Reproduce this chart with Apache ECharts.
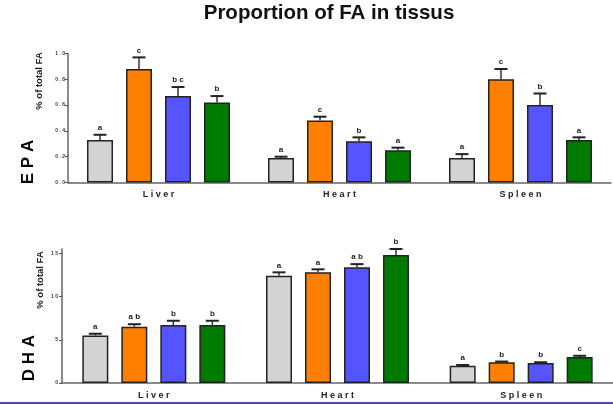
<!DOCTYPE html>
<html><head><meta charset="utf-8">
<script src="https://cdn.jsdelivr.net/npm/echarts@6/dist/echarts.min.js"></script>
<style>html,body{margin:0;padding:0;background:#fff}#c{width:613px;height:405px}</style>
</head><body><div id="c"></div>
<script>
const categories = ['Liver', 'Heart', 'Spleen'];
const seriesNames = ['Group 1', 'Group 2', 'Group 3', 'Group 4'];
const colors = ['#d3d3d3', '#ff8000', '#5555ff', '#007a00'];

// EPA (% of total FA)
const epaTicks = [0, 0.2, 0.4, 0.6, 0.8, 1.0];
const epaGrey = [0.33, 0.19, 0.19];
const epaGreyErr = [0.04, 0.01, 0.03];
const epaGreyLet = ['a', 'a', 'a'];
const epaOrange = [0.88, 0.48, 0.80];
const epaOrangeErr = [0.09, 0.03, 0.08];
const epaOrangeLet = ['c', 'c', 'c'];
const epaBlue = [0.67, 0.32, 0.60];
const epaBlueErr = [0.07, 0.03, 0.09];
const epaBlueLet = ['bc', 'b', 'b'];
const epaGreen = [0.62, 0.25, 0.33];
const epaGreenErr = [0.05, 0.02, 0.02];
const epaGreenLet = ['b', 'a', 'a'];

// DHA (% of total FA)
const dhaTicks = [0, 5, 10, 15];
const dhaGrey = [5.5, 12.4, 2.0];
const dhaGreyErr = [0.2, 0.4, 0.08];
const dhaGreyLet = ['a', 'a', 'a'];
const dhaOrange = [6.5, 12.8, 2.4];
const dhaOrangeErr = [0.3, 0.35, 0.08];
const dhaOrangeLet = ['ab', 'a', 'b'];
const dhaBlue = [6.7, 13.4, 2.3];
const dhaBlueErr = [0.5, 0.35, 0.1];
const dhaBlueLet = ['b', 'ab', 'b'];
const dhaGreen = [6.7, 14.8, 3.0];
const dhaGreenErr = [0.5, 0.7, 0.15];
const dhaGreenLet = ['b', 'b', 'c'];

const FONT = '"Liberation Sans", Arial, sans-serif';
const BAR_W = 26;
const offsets = [-58.5, -19.5, 19.5, 58.5];
const spaced = s => String(s).split('').join(' ');

function barSeries(ai, k, vals) {
  return {
    type: 'bar', name: seriesNames[k], xAxisIndex: ai, yAxisIndex: ai,
    data: vals, barWidth: BAR_W, barGap: '50%',
    itemStyle: { color: colors[k], borderColor: '#222', borderWidth: 1.5 },
    silent: true
  };
}
function errSeries(ai, k, vals, errs, lets) {
  return {
    type: 'custom', xAxisIndex: ai, yAxisIndex: ai, z: 10, silent: true,
    data: vals.map((v, i) => [i, v, errs[i]]),
    renderItem: (params, api) => {
      const i = api.value(0), v = api.value(1), e = api.value(2);
      const p0 = api.coord([i, v]);
      const p1 = api.coord([i, v + e]);
      const x = p0[0] + offsets[k];
      return {
        type: 'group', children: [
          { type: 'line', shape: { x1: x, y1: p0[1], x2: x, y2: p1[1] }, style: { stroke: '#333', lineWidth: 1.5 } },
          { type: 'line', shape: { x1: x - 6.5, y1: p1[1], x2: x + 6.5, y2: p1[1] }, style: { stroke: '#222', lineWidth: 2 } },
          { type: 'text', x: x, y: p1[1] - 3, style: { text: spaced(lets[params.dataIndex]), fill: '#222', font: 'bold 8px ' + FONT, align: 'center', verticalAlign: 'bottom' } }
        ]
      };
    }
  };
}

const chart = echarts.init(document.getElementById('c'), null, { renderer: 'canvas' });
const axisLineStyle = { color: '#666', width: 1.5 };
chart.setOption({
  animation: false,
  backgroundColor: '#fff',
  title: {
    text: 'Proportion of FA in tissus', left: 324, top: -2, textAlign: 'center',
    textStyle: { fontFamily: FONT, fontSize: 20.5, fontWeight: 'bold', color: '#111' }
  },
  grid: [
    { left: 68, right: 2, top: 53.5, height: 129, containLabel: false },
    { left: 62, right: 0, top: 249, height: 134, containLabel: false }
  ],
  xAxis: [0, 1].map(ai => ({
    type: 'category', gridIndex: ai, data: categories,
    axisLine: { lineStyle: axisLineStyle },
    axisTick: { alignWithLabel: true, length: 3, lineStyle: { color: '#444', width: 1.5 } },
    axisLabel: { formatter: spaced, fontFamily: FONT, fontSize: 9, fontWeight: 'bold', color: '#222', margin: 8 },
    splitLine: { show: false }
  })),
  yAxis: [
    {
      type: 'value', gridIndex: 0, min: 0, max: 1.0, interval: 0.2,
      axisLine: { show: true, lineStyle: axisLineStyle },
      axisTick: { show: true, length: 3, lineStyle: { color: '#555' } },
      axisLabel: { fontFamily: FONT, fontSize: 5, fontWeight: 'bold', color: '#333', margin: 3, formatter: v => spaced(v.toFixed(1)) },
      splitLine: { show: false }
    },
    {
      type: 'value', gridIndex: 1, min: 0, max: 15.5,
      axisLine: { show: true, lineStyle: axisLineStyle },
      axisTick: { show: true, length: 3, customValues: dhaTicks, lineStyle: { color: '#555' } },
      axisLabel: { fontFamily: FONT, fontSize: 5, fontWeight: 'bold', color: '#333', margin: 4, customValues: dhaTicks, formatter: v => spaced(v) },
      splitLine: { show: false }
    }
  ],
  graphic: [
    { type: 'text', x: 28, y: 162, rotation: Math.PI / 2, style: { text: 'E P A', font: 'bold 17px ' + FONT, fill: '#000', align: 'center', verticalAlign: 'middle' } },
    { type: 'text', x: 39, y: 81, rotation: Math.PI / 2, style: { text: '% of total FA', font: 'bold 9.5px ' + FONT, fill: '#222', align: 'center', verticalAlign: 'middle' } },
    { type: 'text', x: 29, y: 358, rotation: Math.PI / 2, style: { text: 'D H A', font: 'bold 17px ' + FONT, fill: '#000', align: 'center', verticalAlign: 'middle' } },
    { type: 'text', x: 40, y: 280, rotation: Math.PI / 2, style: { text: '% of total FA', font: 'bold 9.5px ' + FONT, fill: '#222', align: 'center', verticalAlign: 'middle' } },
    { type: 'rect', shape: { x: 0, y: 402, width: 613, height: 2 }, style: { fill: '#4a4aa0' } }
  ],
  series: [
    barSeries(0, 0, epaGrey), barSeries(0, 1, epaOrange), barSeries(0, 2, epaBlue), barSeries(0, 3, epaGreen),
    errSeries(0, 0, epaGrey, epaGreyErr, epaGreyLet),
    errSeries(0, 1, epaOrange, epaOrangeErr, epaOrangeLet),
    errSeries(0, 2, epaBlue, epaBlueErr, epaBlueLet),
    errSeries(0, 3, epaGreen, epaGreenErr, epaGreenLet),
    barSeries(1, 0, dhaGrey), barSeries(1, 1, dhaOrange), barSeries(1, 2, dhaBlue), barSeries(1, 3, dhaGreen),
    errSeries(1, 0, dhaGrey, dhaGreyErr, dhaGreyLet),
    errSeries(1, 1, dhaOrange, dhaOrangeErr, dhaOrangeLet),
    errSeries(1, 2, dhaBlue, dhaBlueErr, dhaBlueLet),
    errSeries(1, 3, dhaGreen, dhaGreenErr, dhaGreenLet)
  ]
});
</script></body></html>
